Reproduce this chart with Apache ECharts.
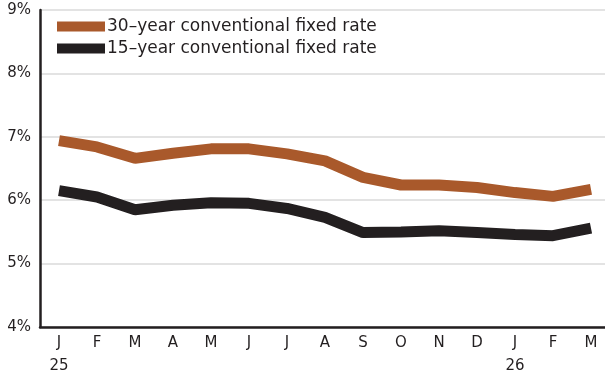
<!DOCTYPE html>
<html><head><meta charset="utf-8">
<script src="https://cdn.jsdelivr.net/npm/echarts@6/dist/echarts.min.js"></script>
<style>html,body{margin:0;padding:0;background:#fff}#c{width:605px;height:372px}</style>
</head><body><div id="c"></div>
<script>
const months = ['J','F','M','A','M','J','J','A','S','O','N','D','J','F','M'];
const years = ['25','','','','','','','','','','','','26','',''];
const rate30 = [6.94,6.84,6.66,6.74,6.81,6.81,6.73,6.62,6.36,6.24,6.24,6.2,6.12,6.06,6.17];
const rate15 = [6.15,6.05,5.85,5.92,5.96,5.95,5.87,5.73,5.49,5.5,5.52,5.49,5.46,5.44,5.56];
const yTicks = [4,5,6,7,8,9];
const names = ['30\u2013year conventional fixed rate','15\u2013year conventional fixed rate'];
const FONT = 'DejaVu Sans';
const chart = echarts.init(document.getElementById('c'));
chart.setOption({
  animation:false,
  grid:{left:40,right:-5,top:10,bottom:45,outerBoundsMode:'none',containLabel:false},
  legend:{
    left:52,top:13,orient:'vertical',itemWidth:48,itemHeight:10,itemGap:5,
    icon:'rect',
    textStyle:{fontFamily:FONT,fontSize:17,color:'#231f20',padding:[0,0,0,-3]},
    data:names
  },
  xAxis:{
    type:'category',boundaryGap:true,
    data:months.map((m,i)=>years[i]?m+'\n'+years[i]:m),
    axisLine:{lineStyle:{color:'#231f20',width:2.5}},
    axisTick:{show:false},
    axisLabel:{fontFamily:FONT,fontSize:15,color:'#231f20',lineHeight:23,margin:5}
  },
  yAxis:{
    type:'value',min:yTicks[0],max:yTicks[yTicks.length-1],interval:1,
    axisLine:{show:true,lineStyle:{color:'#231f20',width:2.5}},
    axisTick:{show:false},
    axisLabel:{fontFamily:FONT,fontSize:15,color:'#231f20',margin:9,formatter:'{value}%'},
    splitLine:{lineStyle:{color:'#e3e3e3',width:2}}
  },
  series:[
    {name:names[0],type:'line',data:rate30,symbol:'none',color:'#a9592b',
     lineStyle:{width:11,color:'#a9592b'}},
    {name:names[1],type:'line',data:rate15,symbol:'none',color:'#231f20',
     lineStyle:{width:11,color:'#231f20'}}
  ]
});
</script></body></html>
